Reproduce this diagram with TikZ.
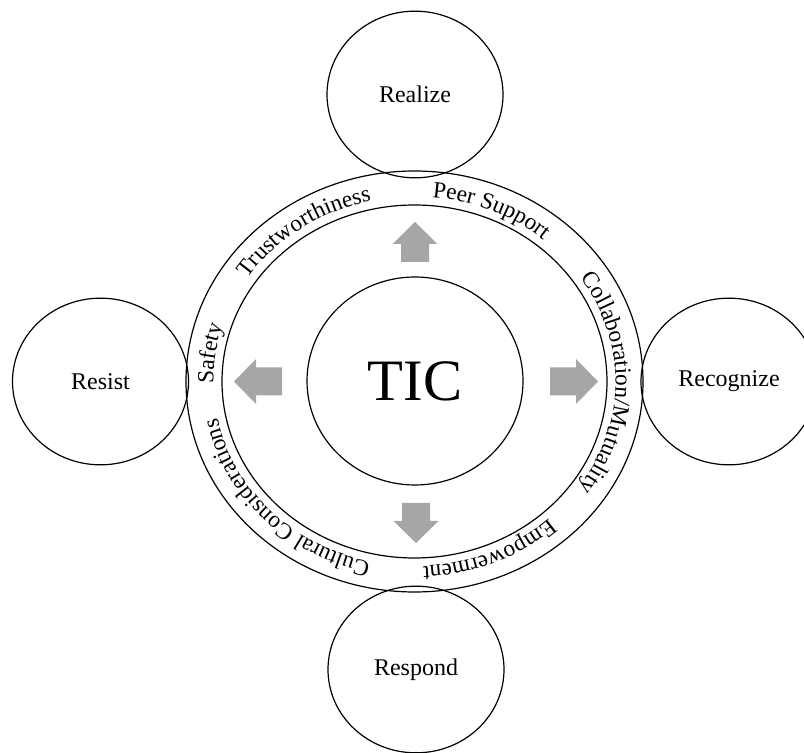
\documentclass[tikz,border=0pt]{standalone}
\usepackage{fontspec}
\setmainfont{Liberation Serif}
\usetikzlibrary{shapes.geometric,decorations.text}

\definecolor{arrowgray}{RGB}{166,166,166}
\newcommand\labelfont{\fontsize{18}{21}\selectfont}
\newcommand\ringfont{\fontsize{17.5}{20}\selectfont}
\newcommand\hubfont{\fontsize{44}{50}\selectfont}

\tikzset{
  outcome/.style={draw, ellipse, line width=0.9pt, minimum width=132pt,
    minimum height=125pt, inner sep=0pt, font=\labelfont},
  hub/.style={draw, ellipse, line width=0.9pt, minimum width=162pt,
    minimum height=156pt, inner sep=0pt, font=\hubfont},
  pics/blockarrow/.style={code={
    \fill[arrowgray] (0,-14) -- (#1,-14) -- (#1,-22.5) -- ({#1+22},0)
      -- (#1,22.5) -- (#1,14) -- (0,14) -- cycle;
  }}
}

\begin{document}
\begin{tikzpicture}[x=0.75pt, y=0.75pt]
  \useasboundingbox (0,0) rectangle (804,753);
  \coordinate (ctr) at (414.5,371.5);
  % text rides clockwise on a baseline ellipse inside the ring
  \def\ringlabel#1#2{%
    \path[decorate, decoration={text along path, text align=center,
      text={|\ringfont|#2}}]
      (ctr) ++({#1+70}:201 and 185)
      arc[start angle={#1+70}, end angle={#1-70}, x radius=201, y radius=185];}

  \draw[line width=0.9pt] (ctr) ellipse [x radius=228.5, y radius=210.5];
  \draw[line width=0.9pt] (ctr) ellipse [x radius=192.5, y radius=176.5];

  \node[hub] (tic) at (415,372) {TIC};

  \node[outcome] (realize) at (415,658.5) {Realize};
  \node[outcome] (recognize) at (729,371.5) {Recognize};
  \node[outcome] (respond) at (416,83.5) {Respond};
  \node[outcome] (resist) at (100.5,371.5) {Resist};

  \ringlabel{126}{Trustworthiness}
  \ringlabel{66}{Peer Support}
  \ringlabel{-0.5}{Collaboration/Mutuality}
  \ringlabel{-66.5}{Empowerment}
  \ringlabel{-137}{Cultural Considerations}
  \ringlabel{172}{Safety}

  \pic[rotate=90] at (415,491) {blockarrow=18};
  \pic[rotate=180] at (282,371.5) {blockarrow=26};
  \pic at (550,371.5) {blockarrow=26};
  \pic[rotate=-90] at (416,250) {blockarrow=18};
\end{tikzpicture}
\end{document}
